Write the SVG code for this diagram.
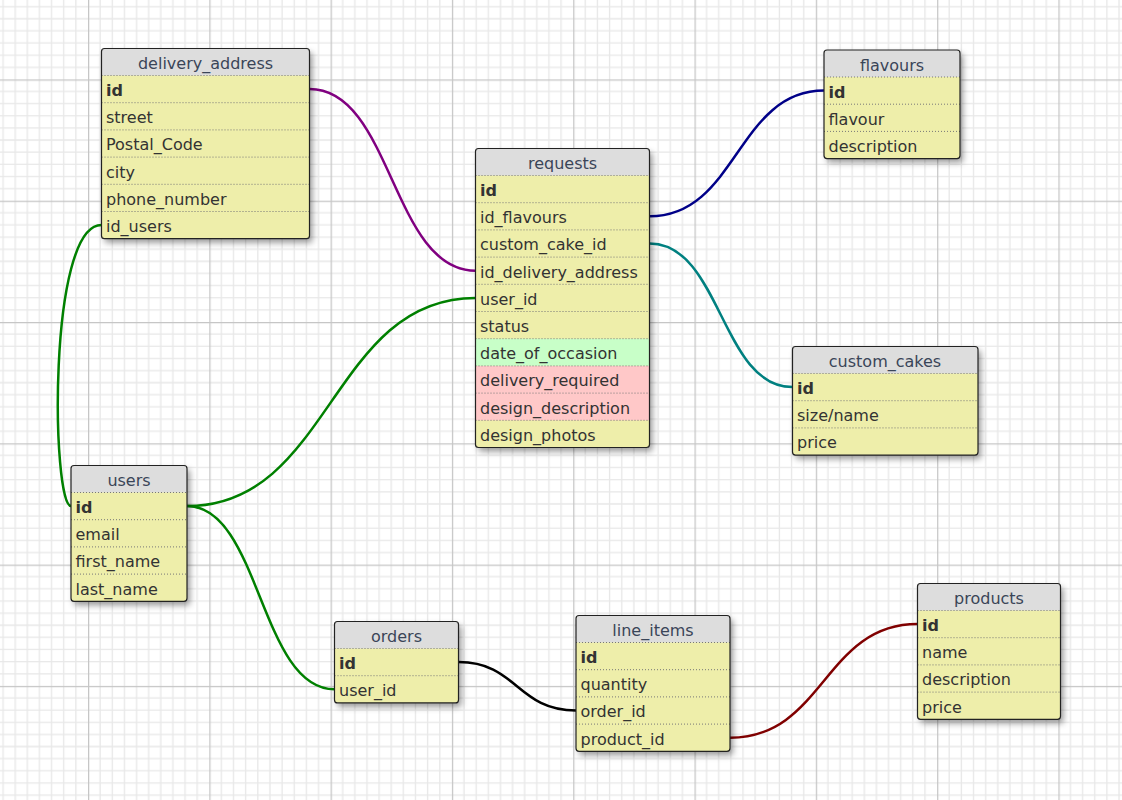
<svg xmlns="http://www.w3.org/2000/svg" width="1122" height="800" viewBox="0 0 1122 800">
<defs>
<pattern id="grid" patternUnits="userSpaceOnUse" x="88" y="79.4" width="121.3" height="121.3">
<rect width="121.3" height="121.3" fill="#ffffff"/>
<path d="M12.13 0V121.3M24.26 0V121.3M36.39 0V121.3M48.52 0V121.3M60.65 0V121.3M72.78 0V121.3M84.91 0V121.3M97.04 0V121.3M109.17 0V121.3M0 12.13H121.3M0 24.26H121.3M0 36.39H121.3M0 48.52H121.3M0 60.65H121.3M0 72.78H121.3M0 84.91H121.3M0 97.04H121.3M0 109.17H121.3" stroke="#e8e8e8" stroke-width="1.3" fill="none"/>
<path d="M0.5 0V121.3M0 0.5H121.3" stroke="#c6c6c6" stroke-width="1.5" fill="none"/>
</pattern>
<filter id="shadow" x="-20%" y="-20%" width="150%" height="150%">
<feDropShadow dx="3" dy="4" stdDeviation="3" flood-color="#000" flood-opacity="0.4"/>
</filter>
</defs>
<style>
.body{fill:#eeeeaa;filter:url(#shadow)}
.head{fill:#dddddd}
.border{fill:none;stroke:#222;stroke-width:1.2}
.sep{stroke:#777;stroke-width:1;stroke-dasharray:1,2}
.t{font-family:"DejaVu Sans",Verdana,sans-serif;font-size:16px;fill:#333}
.h{font-family:"DejaVu Sans",Verdana,sans-serif;font-size:16px;fill:#3a4558;text-anchor:middle}
.b{font-weight:bold}
.green{fill:#c8ffc8}
.pink{fill:#ffc8c8}
.c{fill:none;stroke-width:2.5}
</style>
<rect width="1122" height="800" fill="url(#grid)"/>
<g id="connectors">
<path class="c" stroke="#800080" d="M309.5,89.1 C392,89.1 392,270.7 475.5,270.7"/>
<path class="c" stroke="#000088" d="M649.5,216.3 C737,216.3 737,90.6 824,90.6"/>
<path class="c" stroke="#008080" d="M649.5,243.5 C721,243.5 721,387.1 792.5,387.1"/>
<path class="c" stroke="#008000" d="M101.5,225.1 C47,225.1 52,506.1 71,506.1"/>
<path class="c" stroke="#008000" d="M187,506.1 C331,506.1 331,297.9 475.5,297.9"/>
<path class="c" stroke="#008000" d="M187,506.1 C260,506.1 260,689.3 334.5,689.3"/>
<path class="c" stroke="#000000" d="M458.5,662.1 C517,662.1 517,710.5 576,710.5"/>
<path class="c" stroke="#800000" d="M730,737.7 C824,737.7 824,624.1 917.5,624.1"/>
</g>
<g id="delivery_address">
<rect class="body" x="101.5" y="48.5" width="208" height="190.2" rx="3"/>
<path class="head" d="M101.5,75.5V51.5Q101.5,48.5 104.5,48.5H306.5Q309.5,48.5 309.5,51.5V75.5Z"/>
<path class="sep" d="M101.5,75.5H309.5M101.5,102.7H309.5M101.5,129.9H309.5M101.5,157.1H309.5M101.5,184.3H309.5M101.5,211.5H309.5"/>
<rect class="border" x="101.5" y="48.5" width="208" height="190.2" rx="3"/>
<text class="h" x="205.5" y="69">delivery_address</text>
<text class="t b" x="106" y="96">id</text>
<text class="t" x="106" y="123.2">street</text>
<text class="t" x="106" y="150.4">Postal_Code</text>
<text class="t" x="106" y="177.6">city</text>
<text class="t" x="106" y="204.8">phone_number</text>
<text class="t" x="106" y="232">id_users</text>
</g>
<g id="requests">
<rect class="body" x="475.5" y="148.5" width="174" height="299" rx="3"/>
<path class="head" d="M475.5,175.5V151.5Q475.5,148.5 478.5,148.5H646.5Q649.5,148.5 649.5,151.5V175.5Z"/>
<rect class="green" x="475.5" y="338.7" width="174" height="27.2"/>
<rect class="pink" x="475.5" y="365.9" width="174" height="54.4"/>
<path class="sep" d="M475.5,175.5H649.5M475.5,202.7H649.5M475.5,229.9H649.5M475.5,257.1H649.5M475.5,284.3H649.5M475.5,311.5H649.5M475.5,338.7H649.5M475.5,365.9H649.5M475.5,393.1H649.5M475.5,420.3H649.5"/>
<rect class="border" x="475.5" y="148.5" width="174" height="299" rx="3"/>
<text class="h" x="562.5" y="169">requests</text>
<text class="t b" x="480" y="196">id</text>
<text class="t" x="480" y="223.2">id_flavours</text>
<text class="t" x="480" y="250.4">custom_cake_id</text>
<text class="t" x="480" y="277.6">id_delivery_address</text>
<text class="t" x="480" y="304.8">user_id</text>
<text class="t" x="480" y="332">status</text>
<text class="t" x="480" y="359.2">date_of_occasion</text>
<text class="t" x="480" y="386.4">delivery_required</text>
<text class="t" x="480" y="413.6">design_description</text>
<text class="t" x="480" y="440.8">design_photos</text>
</g>
<g id="flavours">
<rect class="body" x="824" y="50" width="136" height="108.6" rx="3"/>
<path class="head" d="M824,77V53Q824,50 827,50H957Q960,50 960,53V77Z"/>
<path class="sep" d="M824,77H960M824,104.2H960M824,131.4H960"/>
<rect class="border" x="824" y="50" width="136" height="108.6" rx="3"/>
<text class="h" x="892" y="70.5">flavours</text>
<text class="t b" x="828.5" y="97.5">id</text>
<text class="t" x="828.5" y="124.7">flavour</text>
<text class="t" x="828.5" y="151.9">description</text>
</g>
<g id="custom_cakes">
<rect class="body" x="792.5" y="346.5" width="185.5" height="108.6" rx="3"/>
<path class="head" d="M792.5,373.5V349.5Q792.5,346.5 795.5,346.5H975Q978,346.5 978,349.5V373.5Z"/>
<path class="sep" d="M792.5,373.5H978M792.5,400.7H978M792.5,427.9H978"/>
<rect class="border" x="792.5" y="346.5" width="185.5" height="108.6" rx="3"/>
<text class="h" x="885" y="367">custom_cakes</text>
<text class="t b" x="797" y="394">id</text>
<text class="t" x="797" y="421.2">size/name</text>
<text class="t" x="797" y="448.4">price</text>
</g>
<g id="users">
<rect class="body" x="71" y="465.5" width="116" height="135.8" rx="3"/>
<path class="head" d="M71,492.5V468.5Q71,465.5 74,465.5H184Q187,465.5 187,468.5V492.5Z"/>
<path class="sep" d="M71,492.5H187M71,519.7H187M71,546.9H187M71,574.1H187"/>
<rect class="border" x="71" y="465.5" width="116" height="135.8" rx="3"/>
<text class="h" x="129" y="486">users</text>
<text class="t b" x="75.5" y="513">id</text>
<text class="t" x="75.5" y="540.2">email</text>
<text class="t" x="75.5" y="567.4">first_name</text>
<text class="t" x="75.5" y="594.6">last_name</text>
</g>
<g id="orders">
<rect class="body" x="334.5" y="621.5" width="124" height="81.4" rx="3"/>
<path class="head" d="M334.5,648.5V624.5Q334.5,621.5 337.5,621.5H455.5Q458.5,621.5 458.5,624.5V648.5Z"/>
<path class="sep" d="M334.5,648.5H458.5M334.5,675.7H458.5"/>
<rect class="border" x="334.5" y="621.5" width="124" height="81.4" rx="3"/>
<text class="h" x="396.5" y="642">orders</text>
<text class="t b" x="339" y="669">id</text>
<text class="t" x="339" y="696.2">user_id</text>
</g>
<g id="line_items">
<rect class="body" x="576" y="615.5" width="154" height="135.8" rx="3"/>
<path class="head" d="M576,642.5V618.5Q576,615.5 579,615.5H727Q730,615.5 730,618.5V642.5Z"/>
<path class="sep" d="M576,642.5H730M576,669.7H730M576,696.9H730M576,724.1H730"/>
<rect class="border" x="576" y="615.5" width="154" height="135.8" rx="3"/>
<text class="h" x="653" y="636">line_items</text>
<text class="t b" x="580.5" y="663">id</text>
<text class="t" x="580.5" y="690.2">quantity</text>
<text class="t" x="580.5" y="717.4">order_id</text>
<text class="t" x="580.5" y="744.6">product_id</text>
</g>
<g id="products">
<rect class="body" x="917.5" y="583.5" width="143" height="135.8" rx="3"/>
<path class="head" d="M917.5,610.5V586.5Q917.5,583.5 920.5,583.5H1057.5Q1060.5,583.5 1060.5,586.5V610.5Z"/>
<path class="sep" d="M917.5,610.5H1060.5M917.5,637.7H1060.5M917.5,664.9H1060.5M917.5,692.1H1060.5"/>
<rect class="border" x="917.5" y="583.5" width="143" height="135.8" rx="3"/>
<text class="h" x="989" y="604">products</text>
<text class="t b" x="922" y="631">id</text>
<text class="t" x="922" y="658.2">name</text>
<text class="t" x="922" y="685.4">description</text>
<text class="t" x="922" y="712.6">price</text>
</g>
</svg>
